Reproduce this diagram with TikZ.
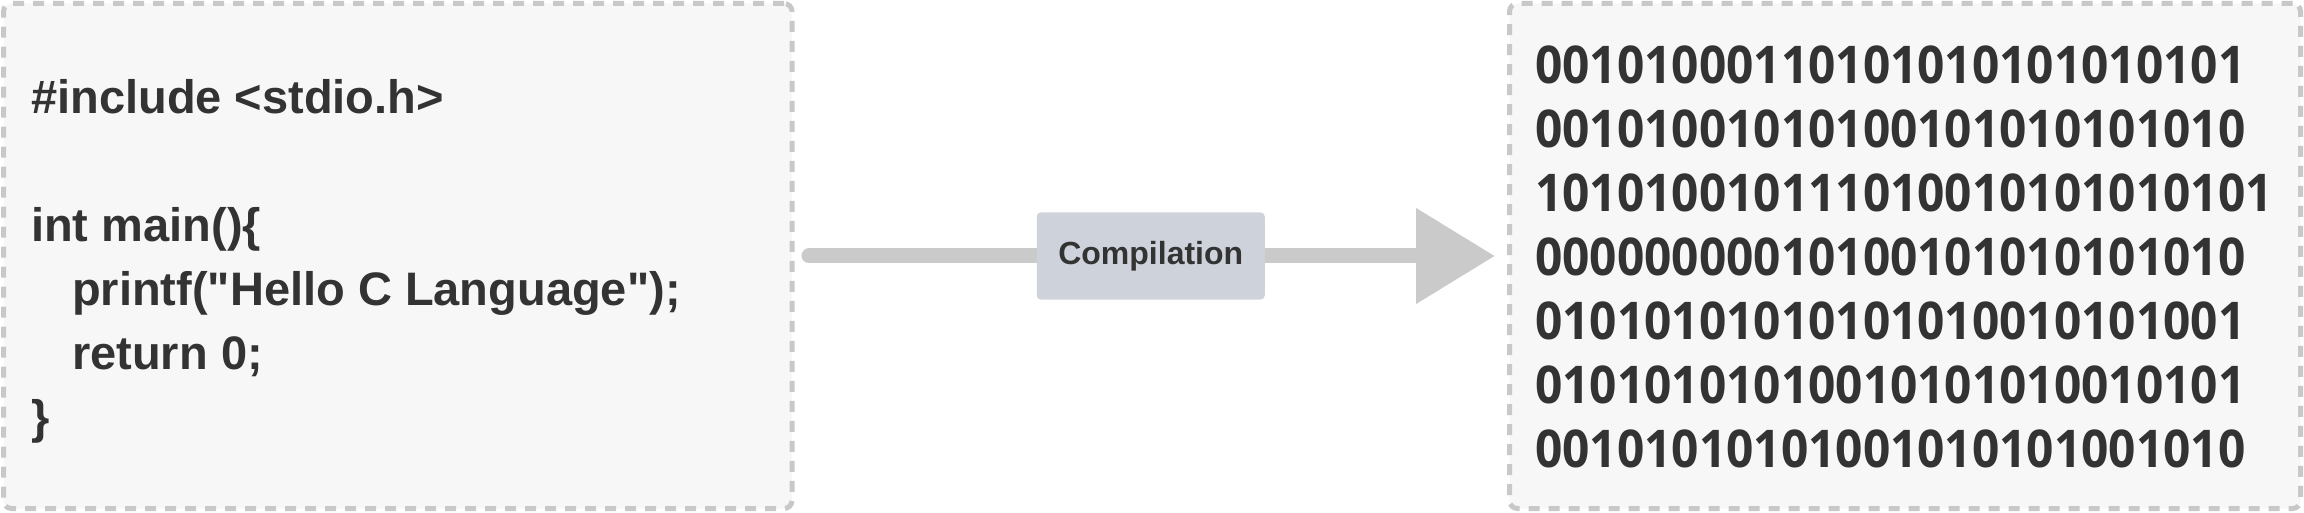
\documentclass[tikz,border=0pt]{standalone}
\usepackage{fontspec}
\setmainfont{Liberation Sans}
\newfontfamily\binfont[FakeStretch=0.92]{Open Sans}
\usetikzlibrary{arrows.meta, positioning}
\definecolor{panelfill}{HTML}{F7F7F7}
\definecolor{panelline}{HTML}{C8C8C8}
\definecolor{flowgray}{HTML}{CBCACA}
\definecolor{labelfill}{HTML}{CED3DB}
\definecolor{ink}{HTML}{333333}
\tikzset{
panel/.style={
  draw=panelline,
  fill=panelfill,
  line width=5pt,
  dash pattern=on 11pt off 9pt,
  rounded corners=8pt,
  minimum height=505pt
},
codetext/.style={
  inner sep=0pt,
  anchor=north west,
  align=left,
  text=ink,
  font=\fontsize{47}{64}\selectfont\bfseries
},
bintext/.style={
  inner sep=0pt,
  anchor=north west,
  align=left,
  text=ink,
  font=\binfont\fontsize{52}{64}\selectfont\bfseries
},
flow/.style={
  draw=flowgray,
  line width=15pt,
  line cap=round,
  -{Triangle[length=79pt,width=92pt]}
},
steplabel/.style={
  fill=labelfill,
  rounded corners=4pt,
  minimum width=228pt,
  minimum height=87pt,
  text=ink,
  font=\fontsize{32}{38}\selectfont\bfseries
}
}

\begin{document}
\begin{tikzpicture}[x=1pt, y=1pt]
    \useasboundingbox (0,0) rectangle (2304,512);
    % source and machine code panels
    \node[panel, minimum width=788.5pt] (src) at (397.75,256) {};
    \node[panel, minimum width=791pt] (bin) at (1905,256) {};

    \node[codetext] (code) at (31,433) {%
        \#include <stdio.h>\\
        \mbox{}\\
        int main()\{\\
        \hspace*{41pt}printf(\textquotedbl Hello C Language\textquotedbl);\\
        \hspace*{41pt}return 0;\\
        \}};

    \node[bintext] (bits) at (1535,466) {%
        00101000110101010101010101\\
        00101001010100101010101010\\
        101010010111010010101010101\\
        00000000010100101010101010\\
        01010101010101010010101001\\
        01010101010010101010010101\\
        00101010101001010101001010};

    % compile step
    \draw[flow, shorten <=14.5pt, shorten >=12pt] (src.east) -- node[steplabel] (comp) {Compilation} (bin.west);
\end{tikzpicture}
\end{document}
